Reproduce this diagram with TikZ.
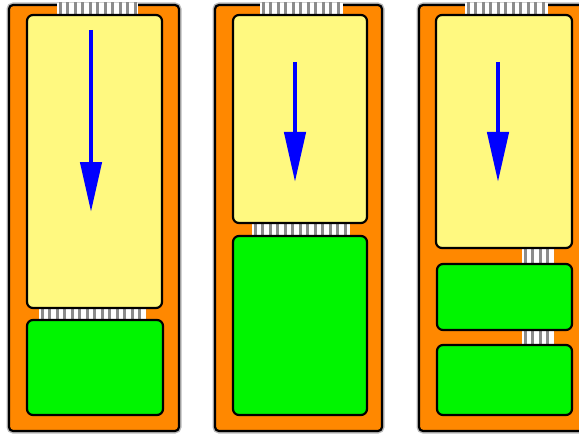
\documentclass[tikz,border=0pt]{standalone}
\usetikzlibrary{arrows.meta}
\definecolor{caseorange}{RGB}{255,136,0}
\definecolor{ramyellow}{RGB}{255,249,128}
\definecolor{blockgreen}{RGB}{0,245,0}
\tikzset{
  casebox/.style={fill=caseorange, draw=black, line width=2.2pt, rounded corners=4pt,
    preaction={draw=gray!55, line width=5pt}},
  rambox/.style={fill=ramyellow, draw=black, line width=2.2pt, rounded corners=6pt},
  blockbox/.style={fill=blockgreen, draw=black, line width=2.2pt, rounded corners=6pt},
  pins/.style={fill=white, path picture={
      \foreach \i in {0,...,16}
        \fill[gray!90] ([xshift=\i*7.5pt+1.5pt]path picture bounding box.south west) rectangle ++(3pt,30pt);}},
  flow/.style={blue, line width=4.5pt, -{Triangle[length=50pt,width=21pt]}}
}
\begin{document}
\begin{tikzpicture}[x=1pt,y=-1pt]
    \useasboundingbox (0,0) rectangle (579,436);
    \clip (0,0) rectangle (579,436);
    % Cases
    \draw[casebox] (9,5) rectangle (179,431);
    \draw[casebox] (215,5) rectangle (382,431);
    \draw[casebox] (419,5) rectangle (590,431);
    % Top connectors
    \fill[pins] (57,3) rectangle (138,15);
    \fill[pins] (260,3) rectangle (343,15);
    \fill[pins] (465,3) rectangle (548,15);
    % First panel: one large block
    \fill[pins] (39,306) rectangle (146,321);
    \draw[rambox] (27,15) rectangle (162,308);
    \draw[blockbox] (27,320) rectangle (163,415);
    \draw[flow] (91,30) -- (91,212);
    % Second panel: grown block
    \fill[pins] (252,221) rectangle (350,238);
    \draw[rambox] (233,15) rectangle (367,223);
    \draw[blockbox] (233,236) rectangle (367,415);
    \draw[flow] (295,62) -- (295,182);
    % Third panel: two blocks
    \fill[pins] (522,246) rectangle (554,266);
    \fill[pins] (522,328) rectangle (554,347);
    \draw[rambox] (436,15) rectangle (572,248);
    \draw[blockbox] (437,264) rectangle (572,330);
    \draw[blockbox] (437,345) rectangle (572,415);
    \draw[flow] (498,62) -- (498,182);
\end{tikzpicture}
\end{document}
